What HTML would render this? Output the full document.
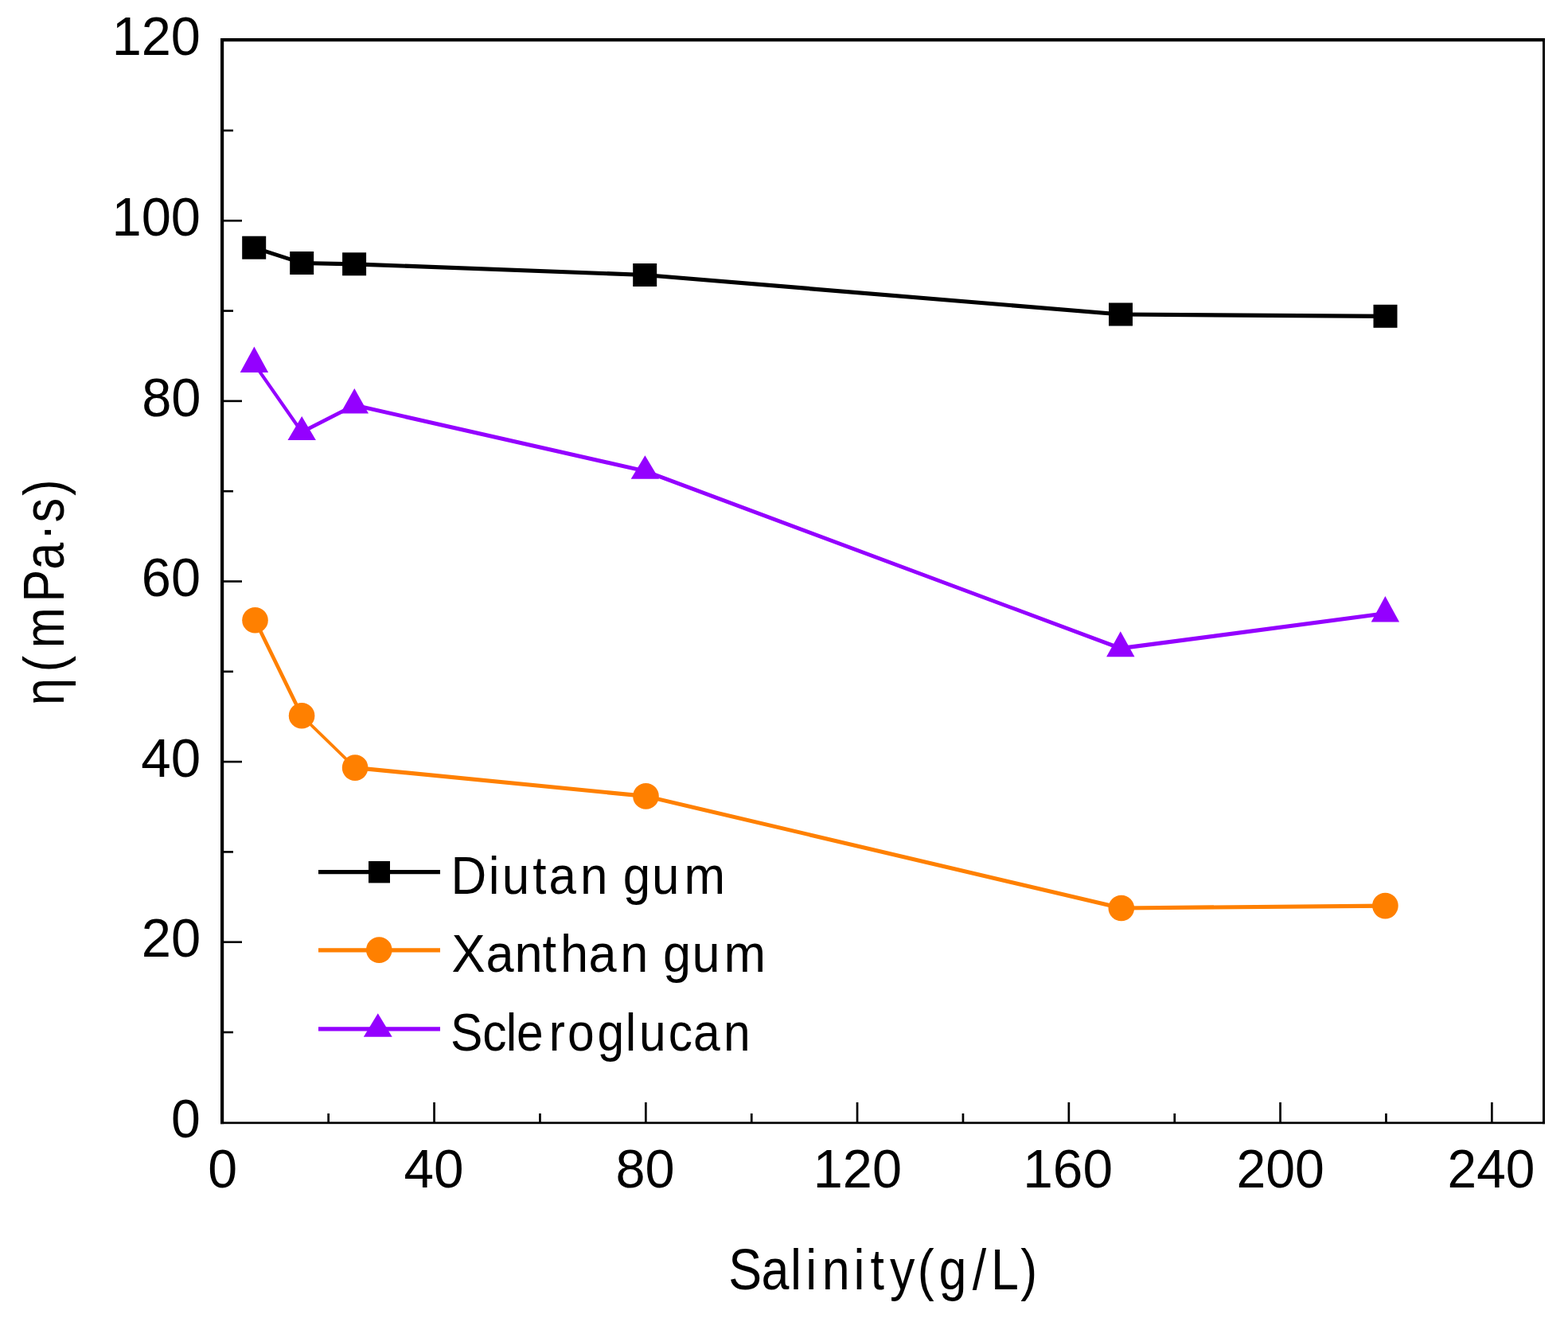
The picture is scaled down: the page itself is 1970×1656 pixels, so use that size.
<!DOCTYPE html>
<html><head><meta charset="utf-8"><title>Viscosity vs Salinity</title>
<style>html,body{margin:0;padding:0;background:#fff;overflow:hidden;}svg{display:block;}</style></head>
<body><svg width="1970" height="1656" viewBox="0 0 1970 1656">
<rect width="1970" height="1656" fill="#fff"/>
<rect x="277" y="48" width="4.2" height="1364.2" fill="#000"/>
<rect x="277" y="48" width="1664" height="4.2" fill="#000"/>
<rect x="1938" y="48" width="3" height="1364.2" fill="#000"/>
<rect x="277" y="1409.5" width="1664" height="2.7" fill="#000"/>
<rect x="281" y="1295.7" width="12" height="2.6" fill="#000"/>
<rect x="281" y="1182.4" width="23" height="2.6" fill="#000"/>
<rect x="281" y="1069.1" width="12" height="2.6" fill="#000"/>
<rect x="281" y="955.8" width="23" height="2.6" fill="#000"/>
<rect x="281" y="842.5" width="12" height="2.6" fill="#000"/>
<rect x="281" y="729.2" width="23" height="2.6" fill="#000"/>
<rect x="281" y="615.9" width="12" height="2.6" fill="#000"/>
<rect x="281" y="502.6" width="23" height="2.6" fill="#000"/>
<rect x="281" y="389.3" width="12" height="2.6" fill="#000"/>
<rect x="281" y="276.0" width="23" height="2.6" fill="#000"/>
<rect x="281" y="162.7" width="12" height="2.6" fill="#000"/>
<rect x="411.3" y="1399" width="2.7" height="11" fill="#000"/>
<rect x="544.2" y="1385" width="2.7" height="25" fill="#000"/>
<rect x="677.1" y="1399" width="2.7" height="11" fill="#000"/>
<rect x="810.0" y="1385" width="2.7" height="25" fill="#000"/>
<rect x="942.9" y="1399" width="2.7" height="11" fill="#000"/>
<rect x="1075.7" y="1385" width="2.7" height="25" fill="#000"/>
<rect x="1208.6" y="1399" width="2.7" height="11" fill="#000"/>
<rect x="1341.5" y="1385" width="2.7" height="25" fill="#000"/>
<rect x="1474.4" y="1399" width="2.7" height="11" fill="#000"/>
<rect x="1607.2" y="1385" width="2.7" height="25" fill="#000"/>
<rect x="1740.1" y="1399" width="2.7" height="11" fill="#000"/>
<rect x="1873.0" y="1385" width="2.7" height="25" fill="#000"/>
<line x1="319.2" y1="311.2" x2="379.2" y2="330.5" stroke="#000" stroke-width="4.95" stroke-linecap="round"/>
<line x1="379.2" y1="330.5" x2="445.1" y2="331.8" stroke="#000" stroke-width="5.20" stroke-linecap="round"/>
<line x1="445.1" y1="331.8" x2="810.2" y2="345.5" stroke="#000" stroke-width="5.20" stroke-linecap="round"/>
<line x1="810.2" y1="345.5" x2="1408.0" y2="395.0" stroke="#000" stroke-width="5.18" stroke-linecap="round"/>
<line x1="1408.0" y1="395.0" x2="1740.5" y2="397.3" stroke="#000" stroke-width="5.20" stroke-linecap="round"/>
<line x1="320.5" y1="779.2" x2="379.1" y2="899.3" stroke="#ff8000" stroke-width="4.67" stroke-linecap="round"/>
<line x1="379.1" y1="899.3" x2="446.1" y2="964.6" stroke="#ff8000" stroke-width="3.72" stroke-linecap="round"/>
<line x1="446.1" y1="964.6" x2="811.5" y2="1000.4" stroke="#ff8000" stroke-width="5.18" stroke-linecap="round"/>
<line x1="811.5" y1="1000.4" x2="1408.8" y2="1141.0" stroke="#ff8000" stroke-width="5.06" stroke-linecap="round"/>
<line x1="1408.8" y1="1141.0" x2="1740.4" y2="1138.1" stroke="#ff8000" stroke-width="5.20" stroke-linecap="round"/>
<line x1="319.4" y1="457.1" x2="379.2" y2="542.9" stroke="#9400ff" stroke-width="4.27" stroke-linecap="round"/>
<line x1="379.2" y1="542.9" x2="445.3" y2="509.1" stroke="#9400ff" stroke-width="4.63" stroke-linecap="round"/>
<line x1="445.3" y1="509.1" x2="810.4" y2="591.9" stroke="#9400ff" stroke-width="5.07" stroke-linecap="round"/>
<line x1="810.4" y1="591.9" x2="1407.8" y2="814.6" stroke="#9400ff" stroke-width="4.87" stroke-linecap="round"/>
<line x1="1407.8" y1="814.6" x2="1740.4" y2="770.8" stroke="#9400ff" stroke-width="5.16" stroke-linecap="round"/>
<rect x="304.2" y="296.7" width="30" height="29" fill="#000"/>
<rect x="364.2" y="316.0" width="30" height="29" fill="#000"/>
<rect x="430.1" y="317.3" width="30" height="29" fill="#000"/>
<rect x="795.2" y="331.0" width="30" height="29" fill="#000"/>
<rect x="1393.0" y="380.5" width="30" height="29" fill="#000"/>
<rect x="1725.5" y="382.8" width="30" height="29" fill="#000"/>
<circle cx="320.5" cy="779.2" r="16.3" fill="#ff8000"/>
<circle cx="379.1" cy="899.3" r="16.3" fill="#ff8000"/>
<circle cx="446.1" cy="964.6" r="16.3" fill="#ff8000"/>
<circle cx="811.5" cy="1000.4" r="16.3" fill="#ff8000"/>
<circle cx="1408.8" cy="1141.0" r="16.3" fill="#ff8000"/>
<circle cx="1740.4" cy="1138.1" r="16.3" fill="#ff8000"/>
<polygon points="319.4,435.4 337.1,467.9 301.7,467.9" fill="#9400ff"/>
<polygon points="379.2,523.0 396.9,552.9 361.5,552.9" fill="#9400ff"/>
<polygon points="445.3,488.0 463.0,519.6 427.6,519.6" fill="#9400ff"/>
<polygon points="810.4,572.2 828.1,601.7 792.7,601.7" fill="#9400ff"/>
<polygon points="1407.8,793.2 1425.5,825.3 1390.1,825.3" fill="#9400ff"/>
<polygon points="1740.4,749.1 1758.1,781.6 1722.7,781.6" fill="#9400ff"/>
<line x1="400" y1="1095.7" x2="553" y2="1095.7" stroke="#000" stroke-width="5.2"/>
<rect x="463" y="1082" width="27" height="27.4" fill="#000"/>
<line x1="400" y1="1193.8" x2="553" y2="1193.8" stroke="#ff8000" stroke-width="5.2"/>
<circle cx="476.3" cy="1193.6" r="16.3" fill="#ff8000"/>
<line x1="400" y1="1292.8" x2="553" y2="1292.8" stroke="#9400ff" stroke-width="5.2"/>
<polygon points="474.8,1273.3 492.7,1302.8 456.8,1302.8" fill="#9400ff"/>
<g font-family="'Liberation Sans', Arial, sans-serif" fill="#000">
<text x="140.7" y="69.4" font-size="69" textLength="111.27" lengthAdjust="spacingAndGlyphs">120</text>
<text x="140.5" y="296.0" font-size="69" textLength="111.49" lengthAdjust="spacingAndGlyphs">100</text>
<text x="178.2" y="522.6" font-size="69" textLength="74.36" lengthAdjust="spacingAndGlyphs">80</text>
<text x="177.8" y="749.2" font-size="69" textLength="74.22" lengthAdjust="spacingAndGlyphs">60</text>
<text x="177.2" y="975.8" font-size="69" textLength="74.89" lengthAdjust="spacingAndGlyphs">40</text>
<text x="177.8" y="1202.4" font-size="69" textLength="74.4" lengthAdjust="spacingAndGlyphs">20</text>
<text x="215.0" y="1429.0" font-size="69" textLength="36.83" lengthAdjust="spacingAndGlyphs">0</text>
<text x="261.3" y="1491.6" font-size="69" textLength="36.83" lengthAdjust="spacingAndGlyphs">0</text>
<text x="507.5" y="1491.6" font-size="69" textLength="75.08" lengthAdjust="spacingAndGlyphs">40</text>
<text x="773.4" y="1491.6" font-size="69" textLength="74.22" lengthAdjust="spacingAndGlyphs">80</text>
<text x="1021.8" y="1491.6" font-size="69" textLength="111.23" lengthAdjust="spacingAndGlyphs">120</text>
<text x="1285.24" y="1491.6" font-size="69" textLength="112.74" lengthAdjust="spacingAndGlyphs">160</text>
<text x="1553.4" y="1491.6" font-size="69" textLength="110.51" lengthAdjust="spacingAndGlyphs">200</text>
<text x="1818.5" y="1491.6" font-size="69" textLength="109.89" lengthAdjust="spacingAndGlyphs">240</text>
<text transform="scale(0.9242,1)" x="613.10 664.19 682.36 724.05 746.19 788.74 826.00 847.05 886.11 930.06" y="1122.9" font-size="67">Diutan gum</text>
<text transform="scale(0.9427,1)" x="601.97 647.71 685.83 723.03 746.73 784.55 826.65 863.92 883.52 922.43 964.81" y="1221.1" font-size="67">Xanthan gum</text>
<text transform="scale(0.9039,1)" x="626.31 670.61 703.36 718.04 763.11 788.72 830.40 869.25 888.33 929.17 963.59 1005.61" y="1319.6" font-size="67">Scleroglucan</text>
<text transform="scale(0.8717,1)" x="1050.01 1097.40 1139.22 1161.22 1184.75 1230.34 1254.31 1282.49 1322.29 1352.99 1401.61 1428.12 1471.09" y="1619.6" font-size="72">Salinity(g/L)</text>
<text transform="translate(79.9,0) rotate(-90) scale(0.85,1)" x="-1042.31 -993.25 -958.06 -890.13 -842.08 -798.91 -772.29 -732.61" y="0" font-size="72">η(mPa·s)</text>
</g>
</svg></body></html>
